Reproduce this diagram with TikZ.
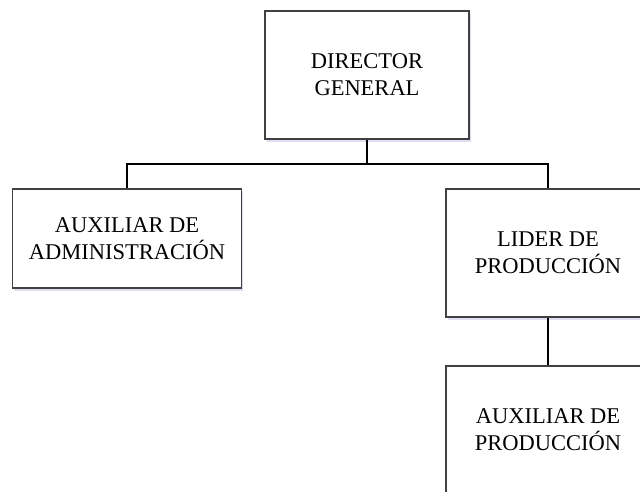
\documentclass[tikz,border=0pt]{standalone}
\usepackage{fontspec}
\setmainfont{Liberation Serif}
\usetikzlibrary{shadows}

\begin{document}
\begin{tikzpicture}[x=1pt,y=-1pt]

\tikzset{PuestoBox/.style={rectangle, draw=black!75, line width=1.3pt, fill=white,
        minimum width=204pt, minimum height=128pt, align=center,
        font=\fontsize{22.5}{27}\selectfont,
        drop shadow={shadow xshift=1.5pt, shadow yshift=-3pt, fill=blue!40!gray, opacity=0.18}},
    Linea/.style={draw=black, line width=1.6pt}}

\useasboundingbox (0,0) rectangle (640,491);
\clip (0,0) rectangle (640,491);

% Puestos
\node (A) at (367,75) [PuestoBox] {DIRECTOR\\GENERAL};

\node (B) at (127,238.5) [PuestoBox, minimum width=229pt, minimum height=99pt]
    {AUXILIAR DE\\ADMINISTRACIÓN};

\node (C) at (548,253) [PuestoBox] {LIDER DE\\PRODUCCIÓN};

\node (D) at (548,430) [PuestoBox] {AUXILIAR DE\\PRODUCCIÓN};

% Lineas de mando
\coordinate (bus) at (367,164);
\draw [Linea] (A) -- (bus);
\draw [Linea] (B.north) |- (bus) -| (C.north);
\draw [Linea] (C) -- (D);

\end{tikzpicture}
\end{document}
